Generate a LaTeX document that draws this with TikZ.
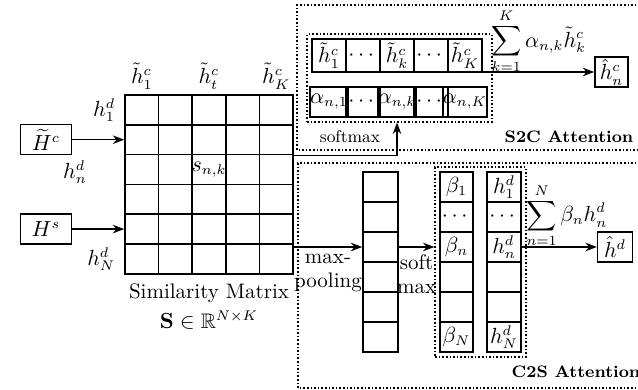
\documentclass[tikz,border=0pt]{standalone}
\usepackage{amsmath}
\usepackage{amssymb}
\usepackage{tikz}
\usetikzlibrary{positioning, arrows.meta, fit}

\begin{document}
\begin{tikzpicture}[
      x=0.5pt, y=-0.5pt,
      font=\fontsize{10.5}{12}\selectfont,
      cell/.style={draw, thick, minimum width=16.8pt, minimum height=14.9pt,
        inner sep=0pt},
      vcell/.style={draw, thick, minimum width=17pt, minimum height=15pt,
        inner sep=0pt},
      inbox/.style={draw, thick, minimum width=25.5pt, minimum height=15pt,
        inner sep=0pt},
      grp/.style={draw, densely dotted, thick, inner sep=2pt},
      frame/.style={densely dotted, thick},
      title/.style={font=\fontsize{8.3}{10}\selectfont\bfseries},
      arr/.style={-Stealth, semithick}
    ]
    \useasboundingbox (0,0) rectangle (638,390);

    \foreach \r in {1,...,6}
      \foreach \c in {1,...,5}
        \node[cell] (m-\r-\c) at ({125+33.6*(\c-0.5)}, {95+29.8*(\r-0.5)}) {};
    \node (snk) at (m-3-3) {$s_{n,k}$};
    \node[above=-1pt of m-1-1] (hc1) {$\tilde{h}^c_1$};
    \node[above=-1pt of m-1-3] (hct) {$\tilde{h}^c_t$};
    \node[above=-1pt of m-1-5] (hcK) {$\tilde{h}^c_K$};
    \node[left=1pt of m-1-1] (hd1) {$h^d_1$};
    \node[left=1pt of m-6-1] (hdN) {$h^d_N$};
    \node (hdn) at (75,172) {$h^d_n$};
    \node[below=1pt of m-6-3] (simlab) {Similarity Matrix};
    \node[below=-3pt of simlab] (sdef) {$\mathbf{S}\in\mathbb{R}^{N\times K}$};

    \node[inbox, left=26pt of m-2-1] (Hc) {$\widetilde{H}^c$};
    \node[inbox, left=26pt of m-5-1] (Hs) {$H^s$};
    \draw[arr] (Hc) -- (m-2-1);
    \draw[arr] (Hs) -- (m-5-1);

    \draw[frame] (640,5) -- (297,5) -- (297,150) -- (640,150);
    \draw[frame] (640,163) -- (298,163) -- (298,388) -- (640,388);

    \foreach \c/\t in {1/{$\tilde{h}^c_1$}, 2/{$\cdots$}, 3/{$\tilde{h}^c_k$},
      4/{$\cdots$}, 5/{$\tilde{h}^c_K$}}
      \node[vcell, minimum height=16.5pt] (hk-\c) at ({312+34*(\c-0.5)}, 55.5) {\t};
    \foreach \c/\t in {1/{$\alpha_{n,1}$}, 2/{$\cdots$}, 3/{$\alpha_{n,k}$},
      4/{$\cdots$}, 5/{$\alpha_{n,K}$}}
      \node[vcell] (al-\c) at ({312+34*(\c-0.5)}, 102) {\t};
    \node[grp, fit=(hk-1)(al-5)] (s2cgrp) {};
    \node[vcell, minimum width=16.5pt] (hcn) at (611.5,72) {$\hat{h}^c_n$};
    \draw[arr] (hk-5.east |- hcn.west) -- (hcn.west)
      node[midway, above=-4.5pt] {$\displaystyle\sum_{k=1}^{K}\alpha_{n,k}\tilde{h}^c_k$};
    \draw[arr] (m-2-5.south east) -| (al-3.south |- s2cgrp.south);
    \node[font=\fontsize{8.5}{10}\selectfont] (smx) at (350,137) {softmax};
    \node[title] (s2clab) at (569,137) {S2C Attention};

    \foreach \r in {1,...,6}
      \node[vcell, minimum width=17.5pt] (p-\r) at (380.5, {172+30*(\r-0.5)}) {};
    \foreach \r/\t in {1/{$\beta_1$}, 2/{$\cdots$}, 3/{$\beta_n$}, 4/{}, 5/{},
      6/{$\beta_N$}}
      \node[vcell, minimum width=16.5pt] (b-\r) at (456.5, {172+30*(\r-0.5)}) {\t};
    \foreach \r/\t in {1/{$h^d_1$}, 2/{$\cdots$}, 3/{$h^d_n$}, 4/{}, 5/{},
      6/{$h^d_N$}}
      \node[vcell] (hd-\r) at (504, {172+30*(\r-0.5)}) {\t};
    \node[grp, fit=(b-1)(hd-6)] (c2sgrp) {};
    \node[vcell, minimum width=17.5pt, right=37.5pt of hd-3] (hdh) {$\hat{h}^d$};
    \draw[arr] (m-5-5.south east |- p-3.west) -- (p-3.west)
      node[midway, below, align=center] {max-\\pooling};
    \draw[arr] (p-3.east) -- (p-3.east -| c2sgrp.west)
      node[midway, below, align=center] {soft\\max};
    \draw[arr] (hd-3.east) -- (hdh.west)
      node[pos=0.6, above=-4pt] {$\displaystyle\sum_{n=1}^{N}\beta_n h^d_n$};
    \node[title] (c2slab) at (576,372) {C2S Attention};
  \end{tikzpicture}
\end{document}
